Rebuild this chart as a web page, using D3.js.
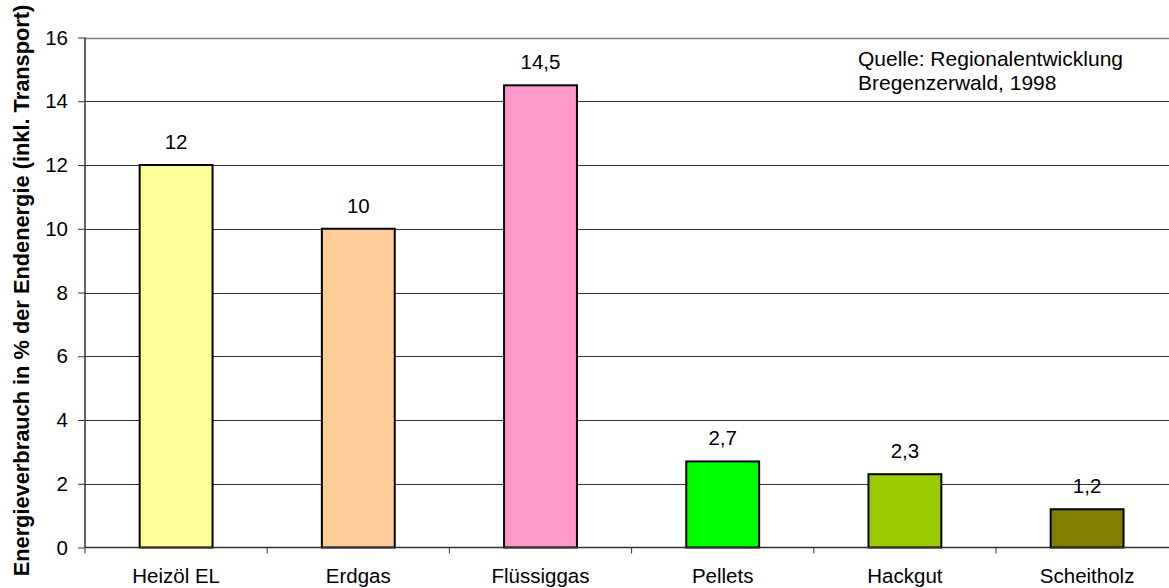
<!DOCTYPE html>
<html>
<head>
<meta charset="utf-8">
<script src="https://cdn.jsdelivr.net/npm/d3@7"></script>
<style>
  body { margin: 0; background: #fff; }
  svg { display: block; font-family: "Liberation Sans", Arial, sans-serif; }
</style>
</head>
<body>
<script>
var categories = ["Heizöl EL", "Erdgas", "Flüssiggas", "Pellets", "Hackgut", "Scheitholz"];
var values = [12, 10, 14.5, 2.7, 2.3, 1.2];
var value_labels = ["12", "10", "14,5", "2,7", "2,3", "1,2"];
var bar_colors = ["#FFFF99", "#FFCC99", "#FF99CC", "#00FF00", "#99CC00", "#808000"];
var y_ticks = [0, 2, 4, 6, 8, 10, 12, 14, 16];

var w = 1169, h = 588;
var plot_left = 85, plot_top = 37.5, plot_bottom = 547.5;
var band = 182.2;
var plot_right = plot_left + band * categories.length;
var font_size = 20.5;

var svg = d3.select("body").append("svg").attr("width", w).attr("height", h);

var x = d3.scaleBand().domain(categories).range([plot_left, plot_right]).paddingInner(0.6).paddingOuter(0.3);
var y = d3.scaleLinear().domain([0, 16]).range([plot_bottom, plot_top]);

// gridlines
svg.append("g").selectAll("line").data(y_ticks.filter(function(d){ return d > 0; }))
  .enter().append("line")
  .attr("x1", plot_left).attr("x2", plot_right)
  .attr("y1", function(d){ return Math.round(y(d)) + 0.5; })
  .attr("y2", function(d){ return Math.round(y(d)) + 0.5; })
  .attr("stroke", function(d){ return d == 16 ? "#808080" : "#333"; })
  .attr("stroke-width", function(d){ return d == 16 ? 1.5 : 1; });

// bars
svg.append("g").selectAll("rect").data(categories).enter().append("rect")
  .attr("x", function(d){ return x(d); })
  .attr("y", function(d, i){ return y(values[i]); })
  .attr("width", x.bandwidth())
  .attr("height", function(d, i){ return y(0) - y(values[i]); })
  .attr("fill", function(d, i){ return bar_colors[i]; })
  .attr("stroke", "#000").attr("stroke-width", 2);

// value labels
svg.append("g").selectAll("text").data(categories).enter().append("text")
  .attr("x", function(d){ return x(d) + x.bandwidth()/2; })
  .attr("y", function(d, i){ return y(values[i]) - 16; })
  .attr("text-anchor", "middle").attr("font-size", font_size).attr("fill", "#000")
  .text(function(d, i){ return value_labels[i]; });

// y axis
var yAxis = d3.axisLeft(y).tickValues(y_ticks).tickSize(7).tickPadding(10);
var gy = svg.append("g").attr("transform", "translate(" + plot_left + ",0)").call(yAxis);
gy.select(".domain").attr("stroke", "#333").attr("stroke-width", 1.5).attr("d", "M0," + plot_top + "V" + plot_bottom);
gy.selectAll(".tick line").attr("stroke", "#333");
gy.selectAll(".tick text").attr("font-size", font_size).attr("font-family", "Liberation Sans, Arial, sans-serif").attr("fill", "#000");

// x axis
var xAxis = d3.axisBottom(x).tickSize(0).tickPadding(21);
var gx = svg.append("g").attr("transform", "translate(0," + plot_bottom + ")").call(xAxis);
gx.select(".domain").attr("stroke", "#333").attr("stroke-width", 1.5).attr("d", "M" + plot_left + ",0H" + plot_right);
gx.selectAll(".tick text").attr("font-size", font_size).attr("font-family", "Liberation Sans, Arial, sans-serif").attr("fill", "#000");
// category boundary ticks
svg.append("g").selectAll("line").data(d3.range(categories.length + 1)).enter().append("line")
  .attr("x1", function(i){ return plot_left + i * band; })
  .attr("x2", function(i){ return plot_left + i * band; })
  .attr("y1", plot_bottom).attr("y2", plot_bottom + 6)
  .attr("stroke", "#333");

// y axis title
svg.append("text")
  .attr("transform", "translate(29," + ((plot_top + plot_bottom)/2 - 2) + ") rotate(-90)")
  .attr("text-anchor", "middle").attr("font-size", 21.8).attr("font-weight", "bold")
  .text("Energieverbrauch in % der Endenergie (inkl. Transport)");

// source note
var note = svg.append("text").attr("x", 858).attr("y", 66).attr("font-size", 21);
note.append("tspan").attr("x", 858).text("Quelle: Regionalentwicklung");
note.append("tspan").attr("x", 858).attr("dy", 24).text("Bregenzerwald, 1998");
</script>
</body>
</html>
